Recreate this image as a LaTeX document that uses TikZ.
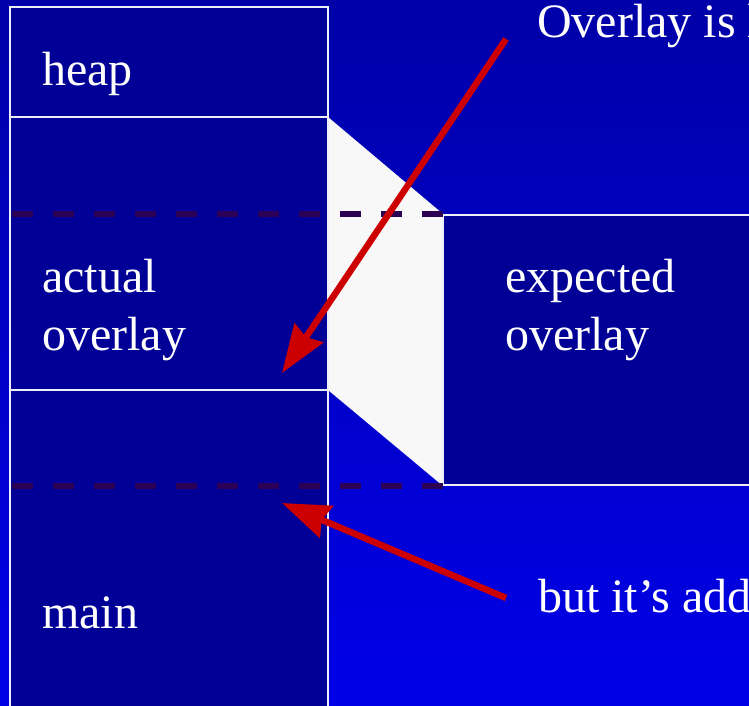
\documentclass[tikz,border=0pt]{standalone}
\usepackage{fontspec}
\setmainfont{Liberation Serif}
\usetikzlibrary{arrows.meta}
\definecolor{bgtop}{RGB}{0,0,168}
\definecolor{bgbot}{RGB}{0,0,232}
\definecolor{boxfill}{RGB}{0,0,150}
\definecolor{boxline}{RGB}{238,238,250}
\definecolor{gapfill}{RGB}{248,248,248}
\definecolor{dashcol}{RGB}{44,0,84}
\definecolor{arrowred}{RGB}{204,0,0}
\tikzset{
  membox/.style={fill=boxfill, draw=boxline, line width=2pt},
  boundary/.style={draw=dashcol, line width=6pt, dash pattern=on 21pt off 20pt},
  label/.style={text=white, inner sep=0pt, font=\fontsize{48}{57.6}\selectfont, align=left},
  pointer/.style={draw=arrowred, line width=6.5pt, -{Stealth[length=48pt, width=34pt, inset=5pt]}},
}
\begin{document}
\begin{tikzpicture}[x=1pt, y=-1pt]
  \clip (0,0) rectangle (749,706);
  \shade[top color=bgtop, bottom color=bgbot] (0,0) rectangle (749,706);
  % gap between actual and expected overlay
  \fill[gapfill] (328,117) -- (443,214) -- (443,486) -- (328,390) -- cycle;
  % memory column
  \draw[membox] (10,7) rectangle (328,117);
  \draw[membox] (10,117) rectangle (328,390);
  \draw[membox] (10,390) rectangle (328,720);
  % expected overlay
  \draw[membox] (443,215) rectangle (760,485);
  % dashed boundaries
  \coordinate (d1a) at (12,214); \coordinate (d1b) at (443,214);
  \coordinate (d2a) at (12,486); \coordinate (d2b) at (443,486);
  \draw[boundary] (d1a) -- (d1b);
  \draw[boundary] (d2a) -- (d2b);
  % labels
  \node[label, anchor=base west] (heap) at (42,86) {heap};
  \node[label, anchor=base west] (actual) at (42,350) {actual\\overlay};
  \node[label, anchor=base west] (main) at (42,628) {main};
  \node[label, anchor=base west] (expected) at (505,350) {expected\\overlay};
  \node[label, anchor=base west] (note1) at (537,38) {Overlay is loaded here};
  \node[label, anchor=base west] (note2) at (538,612) {but it’s added here};
  % arrows
  \coordinate (s1) at (506,39); \coordinate (t1) at (282,373);
  \coordinate (s2) at (506,598); \coordinate (t2) at (282,503);
  \draw[pointer] (s1) -- (t1);
  \draw[pointer] (s2) -- (t2);
\end{tikzpicture}
\end{document}
